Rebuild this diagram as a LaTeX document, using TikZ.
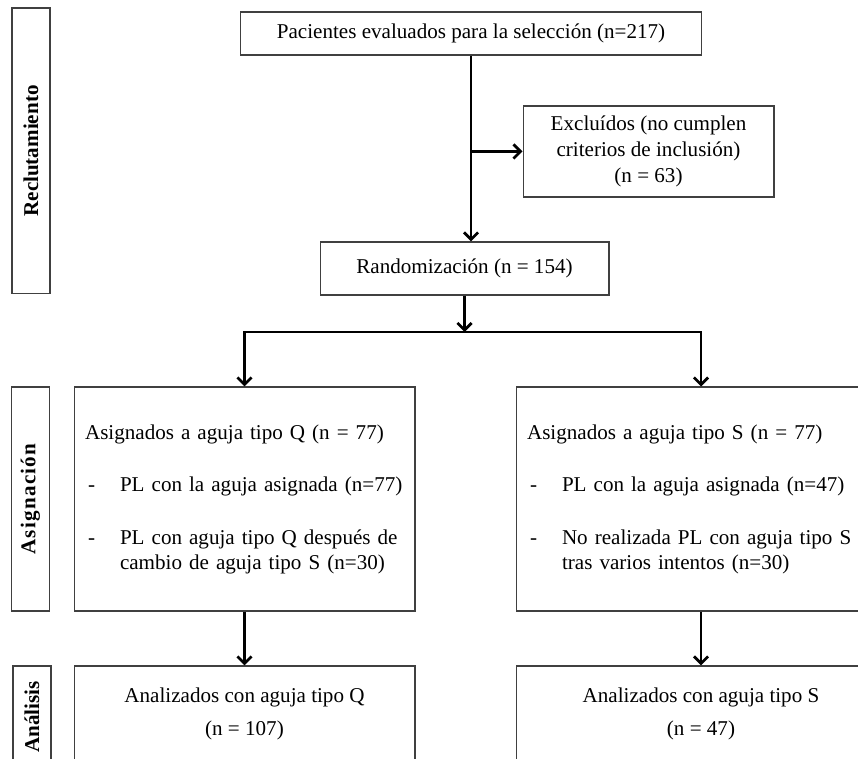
\documentclass[tikz,border=0pt]{standalone}
\usepackage{fontspec}
\setmainfont{Liberation Serif}
\usetikzlibrary{arrows.meta}
\definecolor{boxstroke}{HTML}{404040}
\tikzset{
  flowbox/.style={draw=boxstroke, line width=0.6pt, inner sep=0pt,
                  font=\fontsize{12}{15}\selectfont, align=center},
  groupbox/.style={draw=boxstroke, line width=0.6pt, inner xsep=0.22cm,
                   inner ysep=0pt, font=\fontsize{12}{14}\selectfont, align=left},
  stagetag/.style={draw=boxstroke, line width=0.6pt, inner sep=0pt, rotate=90,
                   minimum height=0.76cm, font=\bfseries\fontsize{12}{14}\selectfont},
  flowarrow/.style={-{Straight Barb[length=4pt,width=8pt]}, line width=1.6pt}
}
\newcommand{\dashitem}{\hspace*{0.06cm}\makebox[0.64cm][l]{-}}

\begin{document}
\begin{tikzpicture}[x=0.02cm, y=-0.02cm]
  \clip (0,0) rectangle (858,759);

  % --- stage tags (left column) ---
  \node[stagetag, minimum width=5.72cm] (recl) at (31,151) {Reclutamiento};
  \node[stagetag, minimum width=4.48cm] (asig) at (30.5,499)
    {\addfontfeature{LetterSpace=6}Asignación};
  \node[stagetag, minimum width=2.04cm] (anal) at (32,717) {Análisis};

  % --- recruitment ---
  \node[flowbox, minimum width=9.24cm, minimum height=0.86cm] (screen) at (471,33.5)
    {Pacientes evaluados para la selección (n=217)};
  \node[flowbox, minimum width=5.02cm, minimum height=1.82cm] (excl) at (648.5,151.5)
    {Excluídos (no cumplen\\criterios de inclusión)\\(n = 63)};
  \node[flowbox, minimum width=5.78cm, minimum height=1.06cm] (rand) at (464.5,268.5)
    {Randomización (n = 154)};

  \draw[flowarrow] (screen.south) -- (screen.south |- rand.north);
  \draw[flowarrow] (screen.south |- excl.west) -- (excl.west);

  % --- allocation ---
  \node[groupbox, text width=6.38cm, minimum height=4.48cm] (Qbox) at (244.5,499)
    {Asignados a aguja tipo Q (n = 77)\\[16pt]
     \dashitem PL con la aguja asignada (n=77)\\[16pt]
     \dashitem PL con aguja tipo Q después de\\
     \hspace*{0.7cm}cambio de aguja tipo S (n=30)};
  \node[groupbox, text width=6.96cm, minimum height=4.48cm] (Sbox) at (701,499)
    {Asignados a aguja tipo S (n = 77)\\[16pt]
     \dashitem PL con la aguja asignada (n=47)\\[16pt]
     \dashitem No realizada PL con aguja tipo S\\
     \hspace*{0.7cm}tras varios intentos (n=30)};

  \coordinate (split) at (464.5,332);
  \draw[flowarrow] (rand.south) -- (split);
  \draw[flowarrow] (split) -| (Qbox.north);
  \draw[flowarrow] (split) -| (Sbox.north);

  % --- analysis ---
  \node[flowbox, minimum width=6.82cm, minimum height=1.92cm] (Qres) at (244.5,714)
    {Analizados con aguja tipo Q\\[4pt](n = 107)};
  \node[flowbox, minimum width=7.4cm, minimum height=1.92cm] (Sres) at (701,714)
    {Analizados con aguja tipo S\\[4pt](n = 47)};

  \draw[flowarrow] (Qbox.south) -- (Qres.north);
  \draw[flowarrow] (Sbox.south) -- (Sres.north);

\end{tikzpicture}
\end{document}
